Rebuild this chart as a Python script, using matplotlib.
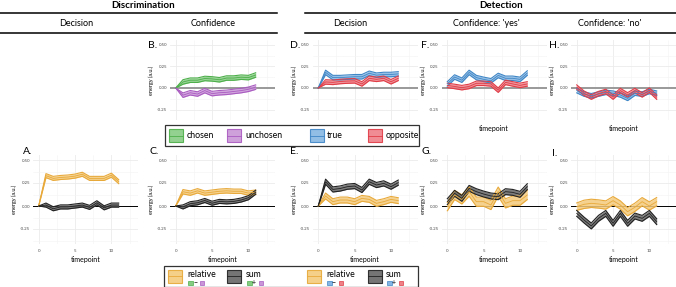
import matplotlib
matplotlib.use("Agg")
import matplotlib.pyplot as plt
import numpy as np
from matplotlib.patches import Rectangle
from matplotlib.lines import Line2D

plt.rcParams["font.family"] = ["Lato", "DejaVu Sans"]

# ---- data (energy, a.u.) -------------------------------------------------
TIME = [0, 1, 2, 3, 4, 5, 6, 7, 8, 9, 10, 11]

A_REL = [0.00, 0.33, 0.30, 0.31, 0.315, 0.325, 0.345, 0.30, 0.30, 0.30, 0.335, 0.265]
A_REL_SE = [0.0, 0.022, 0.022, 0.022, 0.022, 0.022, 0.022, 0.022, 0.022, 0.022, 0.022, 0.022]
A_SUM = [0.00, 0.01, -0.03, -0.01, -0.01, 0.00, 0.01, -0.015, 0.035, -0.02, 0.01, 0.01]
A_SUM_SE = [0.0, 0.022, 0.022, 0.022, 0.022, 0.022, 0.022, 0.022, 0.022, 0.022, 0.022, 0.022]

B_CHOSEN = [0.00, 0.07, 0.09, 0.09, 0.11, 0.105, 0.095, 0.115, 0.115, 0.125, 0.12, 0.15]
B_CHOSEN_SE = [0.0, 0.026, 0.026, 0.026, 0.026, 0.026, 0.026, 0.026, 0.026, 0.026, 0.026, 0.026]
B_UNCHOSEN = [0.00, -0.083, -0.055, -0.07, -0.03, -0.065, -0.055, -0.05, -0.04, -0.03, -0.015, 0.01]
B_UNCHOSEN_SE = [0.0, 0.026, 0.026, 0.026, 0.026, 0.026, 0.026, 0.026, 0.026, 0.026, 0.026, 0.026]

C_REL = [0.00, 0.155, 0.14, 0.165, 0.14, 0.15, 0.16, 0.165, 0.16, 0.16, 0.14, 0.15]
C_REL_SE = [0.0, 0.024, 0.024, 0.024, 0.024, 0.024, 0.024, 0.024, 0.024, 0.024, 0.024, 0.024]
C_SUM = [0.00, -0.01, 0.025, 0.035, 0.06, 0.03, 0.05, 0.045, 0.05, 0.065, 0.09, 0.15]
C_SUM_SE = [0.0, 0.022, 0.022, 0.022, 0.022, 0.022, 0.022, 0.022, 0.022, 0.022, 0.022, 0.022]

D_TRUE = [0.00, 0.18, 0.12, 0.12, 0.125, 0.13, 0.13, 0.17, 0.148, 0.156, 0.156, 0.163]
D_TRUE_SE = [0.0, 0.026, 0.026, 0.026, 0.026, 0.026, 0.026, 0.026, 0.026, 0.026, 0.026, 0.026]
D_OPP = [0.00, 0.07, 0.065, 0.075, 0.08, 0.083, 0.047, 0.112, 0.10, 0.112, 0.072, 0.112]
D_OPP_SE = [0.0, 0.026, 0.026, 0.026, 0.026, 0.026, 0.026, 0.026, 0.026, 0.026, 0.026, 0.026]

E_REL = [0.00, 0.109, 0.047, 0.065, 0.065, 0.047, 0.083, 0.072, 0.029, 0.047, 0.072, 0.058]
E_REL_SE = [0.0, 0.032, 0.032, 0.032, 0.032, 0.032, 0.032, 0.032, 0.032, 0.032, 0.032, 0.032]
E_SUM = [0.00, 0.264, 0.18, 0.19, 0.21, 0.217, 0.174, 0.264, 0.228, 0.246, 0.21, 0.254]
E_SUM_SE = [0.0, 0.028, 0.028, 0.028, 0.028, 0.028, 0.028, 0.028, 0.028, 0.028, 0.028, 0.028]

F_TRUE = [0.047, 0.127, 0.09, 0.18, 0.12, 0.10, 0.083, 0.145, 0.112, 0.112, 0.10, 0.173]
F_TRUE_SE = [0.026, 0.026, 0.026, 0.026, 0.026, 0.026, 0.026, 0.026, 0.026, 0.026, 0.026, 0.026]
F_OPP = [0.03, 0.018, 0.004, 0.018, 0.054, 0.054, 0.047, -0.025, 0.065, 0.047, 0.03, 0.047]
F_OPP_SE = [0.026, 0.026, 0.026, 0.026, 0.026, 0.026, 0.026, 0.026, 0.026, 0.026, 0.026, 0.026]

G_REL = [-0.007, 0.12, 0.072, 0.156, 0.047, 0.047, 0.011, 0.156, 0.029, 0.058, 0.058, 0.12]
G_REL_SE = [0.045, 0.05, 0.05, 0.05, 0.05, 0.05, 0.05, 0.05, 0.05, 0.05, 0.05, 0.05]
G_SUM = [0.047, 0.138, 0.083, 0.192, 0.156, 0.13, 0.109, 0.101, 0.156, 0.148, 0.127, 0.21]
G_SUM_SE = [0.032, 0.032, 0.032, 0.032, 0.032, 0.032, 0.032, 0.032, 0.032, 0.032, 0.032, 0.032]

H_TRUE = [-0.03, -0.07, -0.09, -0.07, -0.05, -0.06, -0.08, -0.12, -0.06, -0.07, -0.04, -0.06]
H_TRUE_SE = [0.026, 0.026, 0.026, 0.026, 0.026, 0.026, 0.026, 0.026, 0.026, 0.026, 0.026, 0.026]
H_OPP = [0.01, -0.06, -0.105, -0.065, -0.04, -0.105, -0.03, -0.08, -0.03, -0.08, -0.025, -0.105]
H_OPP_SE = [0.026, 0.026, 0.026, 0.026, 0.026, 0.026, 0.026, 0.026, 0.026, 0.026, 0.026, 0.026]

I_REL = [-0.007, 0.018, 0.029, 0.022, 0.011, 0.058, 0.011, -0.062, -0.014, 0.047, 0.0, 0.047]
I_REL_SE = [0.04, 0.045, 0.045, 0.045, 0.045, 0.045, 0.045, 0.045, 0.045, 0.045, 0.045, 0.045]
I_SUM = [-0.08, -0.152, -0.217, -0.134, -0.08, -0.188, -0.08, -0.188, -0.109, -0.134, -0.08, -0.17]
I_SUM_SE = [0.032, 0.032, 0.032, 0.032, 0.032, 0.032, 0.032, 0.032, 0.032, 0.032, 0.032, 0.032]

# (edge, fill)
COLORS = {
    "chosen": ("#4DAF4A", "#86CC84"),
    "unchosen": ("#A95BC0", "#C997D8"),
    "true": ("#3F86C6", "#86B6E3"),
    "opposite": ("#E03C46", "#EE8088"),
    "relative": ("#E8A93A", "#F4CB7C"),
    "sum": ("#222222", "#666666"),
}

PANELS = [
    # label, col, row, series, label pos (px)
    ("A.", 0, 1, [(A_REL, A_REL_SE, "relative"), (A_SUM, A_SUM_SE, "sum")], (23, 152)),
    ("B.", 1, 0, [(B_CHOSEN, B_CHOSEN_SE, "chosen"), (B_UNCHOSEN, B_UNCHOSEN_SE, "unchosen")], (148, 45)),
    ("C.", 1, 1, [(C_REL, C_REL_SE, "relative"), (C_SUM, C_SUM_SE, "sum")], (150, 152)),
    ("D.", 2, 0, [(D_TRUE, D_TRUE_SE, "true"), (D_OPP, D_OPP_SE, "opposite")], (290, 45)),
    ("E.", 2, 1, [(E_REL, E_REL_SE, "relative"), (E_SUM, E_SUM_SE, "sum")], (290, 152)),
    ("F.", 3, 0, [(F_TRUE, F_TRUE_SE, "true"), (F_OPP, F_OPP_SE, "opposite")], (421, 45)),
    ("G.", 3, 1, [(G_REL, G_REL_SE, "relative"), (G_SUM, G_SUM_SE, "sum")], (422, 152)),
    ("H.", 4, 0, [(H_TRUE, H_TRUE_SE, "true"), (H_OPP, H_OPP_SE, "opposite")], (549, 45)),
    ("I.", 4, 1, [(I_REL, I_REL_SE, "relative"), (I_SUM, I_SUM_SE, "sum")], (552, 154)),
]

# ---- layout in pixels ----------------------------------------------------
W, H = 676, 287
PX_T = 7.27
PX_E = 92.0
XLIM = (-0.78, 13.66)
COL_X0 = [38.7, 175.7, 318.3, 447.3, 576.7]
ROW_ZERO = [91.0, 206.0]
ROW_YLIM = [(-0.32, 0.55), (-0.41, 0.55)]

fig = plt.figure(figsize=(W / 100, H / 100), dpi=100)


def add_px_axes(left, top, width, height):
    return fig.add_axes([left / W, 1 - (top + height) / H, width / W, height / H])


def draw_series(ax, mean, se, key):
    edge, fill = COLORS[key]
    mean = np.asarray(mean)
    se = np.asarray(se)
    lo, hi = mean - se, mean + se
    ax.fill_between(TIME, lo, hi, color=fill, alpha=0.85, lw=0, zorder=3)
    ax.plot(TIME, lo, color=edge, lw=0.8, zorder=4)
    ax.plot(TIME, hi, color=edge, lw=0.8, zorder=4)
    ax.plot(TIME, mean, color=edge, lw=0.6, zorder=5)


for label, col, row, series, lpos in PANELS:
    ylim = ROW_YLIM[row]
    left = COL_X0[col] + XLIM[0] * PX_T
    width = (XLIM[1] - XLIM[0]) * PX_T
    top = ROW_ZERO[row] - ylim[1] * PX_E
    height = (ylim[1] - ylim[0]) * PX_E
    ax = add_px_axes(left, top, width, height)
    ax.set_xlim(XLIM)
    ax.set_ylim(ylim)
    for s in ax.spines.values():
        s.set_visible(False)
    ax.set_yticks([-0.25, 0.0, 0.25, 0.5])
    ax.set_yticklabels(["-0.25", "0.00", "0.25", "0.50"])
    ax.set_yticks([-0.375, -0.125, 0.125, 0.375], minor=True)
    ax.set_xticks([0, 5, 10])
    ax.set_xticks([2.5, 7.5, 12.5], minor=True)
    ax.grid(True, which="major", color="#EBEBEB", lw=0.6, zorder=0)
    ax.grid(True, which="minor", color="#F4F4F4", lw=0.4, zorder=0)
    ax.tick_params(which="both", length=0, labelsize=3.2, labelcolor="#4D4D4D", pad=2)
    ax.set_axisbelow(True)
    ax.set_ylabel("energy (a.u.)", fontsize=4, labelpad=2)

    if row == 0:
        ax.axhline(0, color="#999999", lw=1.4, zorder=1)
        ax.tick_params(axis="x", labelbottom=False)
        if col >= 3:
            ax.set_xlabel("timepoint", fontsize=5, labelpad=1)
    else:
        ax.axhline(0, color="black", lw=0.7, zorder=1)
        ax.tick_params(axis="x", pad=4)
        ax.set_xlabel("timepoint", fontsize=5, labelpad=2)

    for mean, se, key in series:
        draw_series(ax, mean, se, key)

    fig.text(lpos[0] / W, 1 - lpos[1] / H, label, fontsize=7.5, ha="left", va="center")

# ---- overlay: strip headers and legends ----------------------------------
ov = fig.add_axes([0, 0, 1, 1], zorder=10)
ov.set_xlim(0, W)
ov.set_ylim(H, 0)
ov.axis("off")
ov.patch.set_alpha(0)

for x0, x1 in [(0, 277), (305, 676)]:
    ov.add_line(Line2D([x0, x1], [13.3, 13.3], color="black", lw=1.1))
    ov.add_line(Line2D([x0, x1], [33.3, 33.3], color="black", lw=1.1))
ov.text(143.5, 5.5, "Discrimination", fontsize=7, fontweight="bold", ha="center", va="center")
ov.text(501, 5.5, "Detection", fontsize=7, fontweight="bold", ha="center", va="center")
for x, s in [(76, "Decision"), (213, "Confidence"), (350, "Decision"),
             (486, "Confidence: 'yes'"), (610, "Confidence: 'no'")]:
    ov.text(x, 23, s, fontsize=6.5, ha="center", va="center")


def legend_key(x, y, key):
    edge, fill = COLORS[key]
    ov.add_patch(Rectangle((x, y), 14, 13, facecolor=fill, edgecolor=edge, lw=0.8, alpha=0.9))
    ov.add_line(Line2D([x, x + 14], [y + 6.5, y + 6.5], color=edge, lw=0.6))


def mini_square(x, y, key):
    edge, fill = COLORS[key]
    ov.add_patch(Rectangle((x, y), 4.5, 4, facecolor=fill, edgecolor=edge, lw=0.5))


# legend 1
ov.add_patch(Rectangle((165, 125), 254, 21, facecolor="none", edgecolor="#333333", lw=0.9))
for kx, tx, key in [(169, 187, "chosen"), (227, 245, "unchosen"),
                    (310, 327, "true"), (368, 386, "opposite")]:
    legend_key(kx, 129, key)
    ov.text(tx, 135.5, key, fontsize=6.3, ha="left", va="center")

# legend 2
ov.add_patch(Rectangle((164, 265.7), 254, 21, facecolor="none", edgecolor="#333333", lw=0.9))
for kx, tx, key, a, op, b in [(168, 187, "relative", "chosen", "\u2212", "unchosen"),
                              (227, 246, "sum", "chosen", "+", "unchosen"),
                              (307, 326, "relative", "true", "\u2212", "opposite"),
                              (368, 386, "sum", "true", "+", "opposite")]:
    legend_key(kx, 269.5, key)
    ov.text(tx, 274.5, key, fontsize=6.3, ha="left", va="center")
    mini_square(tx + 1, 280.5, a)
    ov.text(tx + 8, 282.5, op, fontsize=5, ha="center", va="center")
    mini_square(tx + 12.5, 280.5, b)

fig.savefig("out.png", dpi=100, facecolor="white")
